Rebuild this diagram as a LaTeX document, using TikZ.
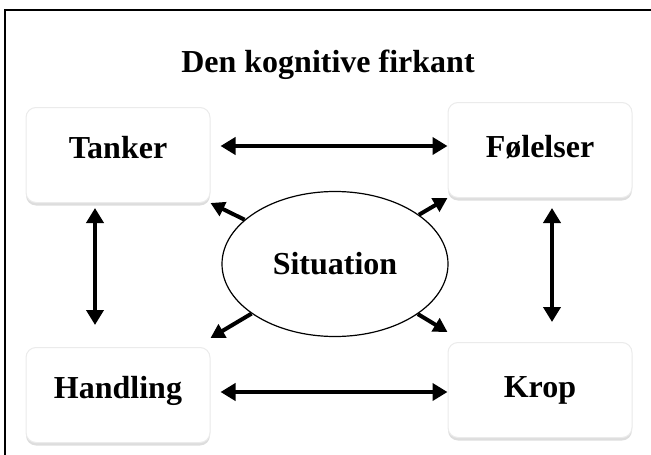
\documentclass[tikz,border=0pt]{standalone}
\usepackage{fontspec}
\setmainfont{Liberation Serif}
\usetikzlibrary{arrows.meta,shapes.geometric,shadows}

\tikzset{
    card/.style={rectangle, rounded corners=10pt, fill=white, draw=black!8, line width=1pt,
        minimum width=184pt, minimum height=95pt, text height=20pt, text depth=13pt,
        font=\bfseries\fontsize{32}{38}\selectfont,
        drop shadow={shadow xshift=0pt, shadow yshift=-3pt, opacity=0.22, fill=black!60}},
    blob/.style={ellipse, draw, fill=white, line width=1.2pt, inner sep=0pt,
        minimum width=226pt, minimum height=145pt, font=\bfseries\fontsize{32}{38}\selectfont},
    both/.style={line width=4.5pt, {Triangle[length=15pt,width=17pt]}-{Triangle[length=15pt,width=17pt]}},
    one/.style={line width=4pt, -{Triangle[length=14pt,width=15pt]}}
}

\begin{document}
\begin{tikzpicture}[x=1pt, y=-1pt]
    \useasboundingbox (0,0) rectangle (651,455);
    \clip (0,0) rectangle (651,455);
    % frame, only top and left show
    \draw[line width=2.5pt] (5,470) -- (5,10) -- (670,10);
    \node[font=\bfseries\fontsize{32}{38}\selectfont] (title) at (328,65) {Den kognitive firkant};

    % the four corners and the middle
    \node[card] (tanker) at (118,155) {Tanker};
    \node[card, text depth=5pt] (folelser) at (540,150) {Følelser};
    \node[card] (handling) at (118,395) {Handling};
    \node[card, text depth=5pt] (krop) at (540,390) {Krop};
    \node[blob] (sit) at (335,264) {Situation};

    \draw[both] ([shift={(10pt,9pt)}]tanker.east) -- ([yshift=4pt]folelser.west);
    \draw[both] ([shift={(10pt,3pt)}]handling.east) -- ([yshift=-2pt]krop.west);
    \draw[both] ([shift={(-23pt,-5pt)}]tanker.south) -- ([shift={(-23pt,22pt)}]handling.north);
    \draw[both] ([shift={(12pt,-10pt)}]folelser.south) -- ([shift={(12pt,20pt)}]krop.north);

    % out of the situation
    \draw[one] (sit) -- (tanker.south east);
    \draw[one] (sit) -- (folelser.south west);
    \draw[one] (sit) -- ([yshift=9pt]handling.north east);
    \draw[one] (sit) -- ([yshift=10pt]krop.north west);
\end{tikzpicture}
\end{document}
